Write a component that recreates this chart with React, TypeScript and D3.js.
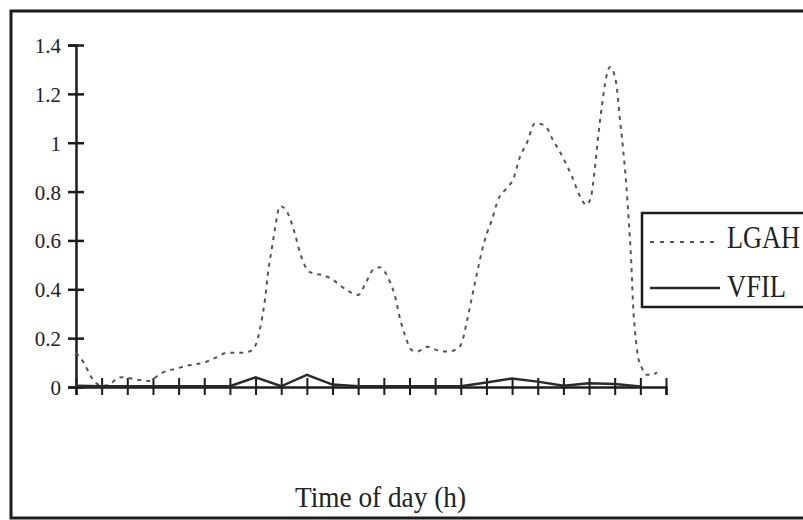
import { useEffect, useRef } from 'react';
import * as d3 from 'd3';

// LGAH (hour of day, value)
const lgahHours = [
	0, 0.3, 0.6, 1.0, 1.3, 1.6, 1.8, 2.4, 2.9, 3.1, 3.4, 3.9, 4.45, 5.0, 5.45, 5.9, 6.5, 6.85, 7.05, 7.25, 7.37,
	7.5, 7.64, 7.76, 7.95, 8.15, 8.34, 8.54, 8.73, 9.12, 9.7, 10.0, 10.37, 10.76, 11.0, 11.27, 11.58, 11.85, 12.05,
	12.24, 12.44, 12.63, 12.83, 13.1, 13.3, 13.7, 14.1, 14.45, 14.85, 15.05, 15.25, 15.44, 15.63, 15.83, 16.02, 16.2,
	16.45, 16.8, 17.04, 17.3, 17.58, 17.9, 18.28, 18.6, 18.98, 19.34, 19.65, 19.9, 20.08, 20.2, 20.35, 20.5, 20.62,
	20.82, 21.05, 21.2, 21.33, 21.45, 21.55, 21.65, 21.72, 21.8, 21.9, 22.05, 22.25, 22.45, 22.65,
];
const lgahValues = [
	0.14, 0.1, 0.04, 0.005, 0.01, 0.035, 0.04, 0.03, 0.025, 0.04, 0.06, 0.075, 0.09, 0.1, 0.12, 0.14, 0.14, 0.15, 0.185,
	0.28, 0.36, 0.48, 0.57, 0.65, 0.74, 0.73, 0.69, 0.625, 0.55, 0.47, 0.455, 0.44, 0.41, 0.385, 0.377, 0.42, 0.48,
	0.49, 0.47, 0.43, 0.37, 0.28, 0.21, 0.15, 0.145, 0.165, 0.15, 0.145, 0.155, 0.185, 0.275, 0.37, 0.465, 0.56, 0.63,
	0.68, 0.765, 0.815, 0.85, 0.94, 1.0, 1.08, 1.07, 1.01, 0.94, 0.86, 0.78, 0.745, 0.78, 0.87, 1.02, 1.15, 1.24, 1.31,
	1.25, 1.1, 0.97, 0.83, 0.68, 0.5, 0.33, 0.22, 0.13, 0.08, 0.05, 0.05, 0.06,
];

// VFIL - hourly
const vfilHours = d3.range(0, 23);
const vfilValues = [
	0.005, 0.003, 0.003, 0.003, 0.003, 0.003, 0.003, 0.04, 0.003, 0.05, 0.01, 0.003, 0.003, 0.003, 0.003, 0.003, 0.018,
	0.035, 0.022, 0.005, 0.015, 0.012, 0.002,
];

const yTicks = [0, 0.2, 0.4, 0.6, 0.8, 1, 1.2, 1.4];
const hourTicks = d3.range(0, 24);
const seriesNames = ['LGAH', 'VFIL'];
const xTitle = 'Time of day (h)';

type Pt = { h: number; v: number };

export default function App() {
	const svgRef = useRef<SVGSVGElement>(null);

	useEffect(() => {
		if (!svgRef.current) return;
		const svg = d3.select(svgRef.current);
		svg.selectAll('*').remove();

		const width = 803;
		const height = 520;
		const font = '"Liberation Serif", "Times New Roman", serif';
		const ink = '#1c1c1c';

		svg.attr('width', width).attr('height', height);

		svg.append('rect').attr('width', width).attr('height', height).attr('fill', '#fff');

		// outer frame (right side runs off the picture)
		svg
			.append('rect')
			.attr('x', 11)
			.attr('y', 11)
			.attr('width', 820)
			.attr('height', 507)
			.attr('fill', 'none')
			.attr('stroke', ink)
			.attr('stroke-width', 3);

		const x = d3.scaleLinear().domain([0, 23]).range([76, 666]);
		const y = d3.scaleLinear().domain([0, 1.4]).range([387, 45]);

		// Y axis
		const yAxis = svg
			.append('g')
			.attr('transform', `translate(${x(0)},0)`)
			.call(
				d3
					.axisLeft(y)
					.tickValues(yTicks)
					.tickSizeOuter(0)
					.tickSize(8)
					.tickFormat((d) => d3.format('~g')(d as number))
			);
		yAxis.select('.domain').attr('stroke', ink).attr('stroke-width', 2.5);
		yAxis.selectAll('.tick line').attr('x1', 8).attr('x2', -8).attr('stroke', ink).attr('stroke-width', 2.5);
		yAxis
			.selectAll('.tick text')
			.attr('x', -15)
			.attr('dy', '0.36em')
			.style('font-family', font)
			.style('font-size', '21px')
			.style('fill', '#222');

		// X axis with crossing ticks, no labels
		const xAxis = svg
			.append('g')
			.attr('transform', `translate(0,${y(0)})`)
			.call(d3.axisBottom(x).tickValues(hourTicks).tickSizeOuter(0).tickSize(8).tickFormat(() => ''));
		xAxis.select('.domain').attr('stroke', ink).attr('stroke-width', 2.5);
		xAxis.selectAll('.tick line').attr('y1', -9).attr('y2', 8).attr('stroke', ink).attr('stroke-width', 2);

		const lgah: Pt[] = lgahHours.map((h, i) => ({ h, v: lgahValues[i] }));
		const vfil: Pt[] = vfilHours.map((h, i) => ({ h, v: vfilValues[i] }));

		const smooth = d3
			.line<Pt>()
			.x((d) => x(d.h))
			.y((d) => y(d.v))
			.curve(d3.curveMonotoneX);
		const straight = d3
			.line<Pt>()
			.x((d) => x(d.h))
			.y((d) => y(d.v));

		svg
			.append('path')
			.datum(lgah)
			.attr('fill', 'none')
			.attr('stroke', '#555')
			.attr('stroke-width', 2)
			.attr('stroke-dasharray', '4,5')
			.attr('d', smooth);

		svg
			.append('path')
			.datum(vfil)
			.attr('fill', 'none')
			.attr('stroke', '#2a2a2a')
			.attr('stroke-width', 2.5)
			.attr('d', straight);

		// X axis title
		svg
			.append('text')
			.attr('x', 295)
			.attr('y', 507)
			.attr('textLength', 171)
			.attr('lengthAdjust', 'spacingAndGlyphs')
			.style('font-family', font)
			.style('font-size', '30px')
			.style('fill', '#222')
			.text(xTitle);

		// Legend (clipped at the right edge)
		const legend = svg.append('g');
		legend
			.append('rect')
			.attr('x', 642)
			.attr('y', 213)
			.attr('width', 200)
			.attr('height', 94)
			.attr('fill', '#fff')
			.attr('stroke', ink)
			.attr('stroke-width', 2.5);

		const rows = [
			{ name: seriesNames[0], y: 242, dash: '4,6', color: '#555', w: 2, tl: 73, ty: 248 },
			{ name: seriesNames[1], y: 288, dash: null, color: '#2a2a2a', w: 2.5, tl: 59, ty: 297 },
		];
		rows.forEach((r) => {
			legend
				.append('line')
				.attr('x1', 650)
				.attr('x2', 720)
				.attr('y1', r.y)
				.attr('y2', r.y)
				.attr('stroke', r.color)
				.attr('stroke-width', r.w)
				.attr('stroke-dasharray', r.dash);
			legend
				.append('text')
				.attr('x', 727)
				.attr('y', r.ty)
				.attr('textLength', r.tl)
				.attr('lengthAdjust', 'spacingAndGlyphs')
				.style('font-family', font)
				.style('font-size', '32px')
				.style('fill', '#222')
				.text(r.name);
		});
	}, []);

	return (
		<div style={{ position: 'absolute', left: 0, top: 0, width: 803, height: 520, overflow: 'hidden' }}>
			<svg ref={svgRef} style={{ display: 'block' }}></svg>
		</div>
	);
}
